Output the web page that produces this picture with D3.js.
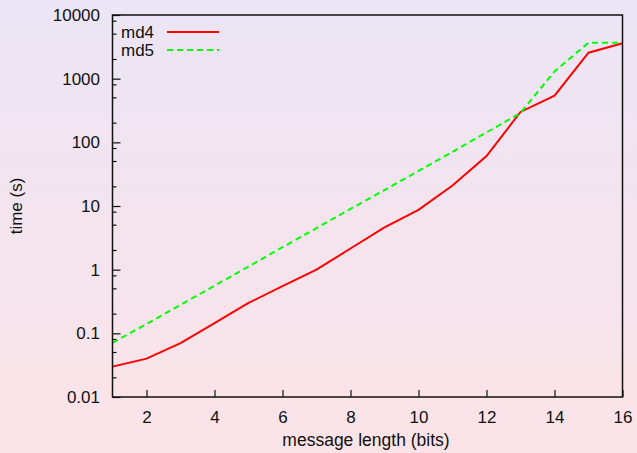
<!DOCTYPE html>
<html><head><meta charset="utf-8">
<script src="https://cdn.jsdelivr.net/npm/d3@7"></script>
<style>
html,body{margin:0;padding:0;}
svg{display:block;}
text{font-family:"Liberation Sans",Arial,Helvetica,sans-serif;}
</style></head>
<body>
<svg id="chart" width="637" height="453"></svg>
<script>
const bits = [1,2,3,4,5,6,7,8,9,10,11,12,13,14,15,16];
const md4 = [0.030,0.040,0.070,0.145,0.30,0.55,1.0,2.15,4.6,8.7,21,61,300,540,2560,3600];
const md5 = [0.071,0.14,0.28,0.56,1.12,2.25,4.5,9.0,17.8,35.5,71,143,290,1300,3670,3670];
const xTicks = [2,4,6,8,10,12,14,16];
const yTicks = [0.01,0.1,1,10,100,1000,10000];
const yTickLabels = ["0.01","0.1","1","10","100","1000","10000"];
const minorMultipliers = [2,5,8];
const seriesNames = ["md4","md5"];
const seriesColors = ["#ff0000","#00ff00"];
const xLabel = "message length (bits)";
const yLabel = "time (s)";

const W = 637, H = 453;
const L = 112.5, R = 622.5, T = 15, B = 397;
const svg = d3.select("#chart");

const defs = svg.append("defs");
const grad = defs.append("linearGradient").attr("id","bg").attr("x1",0).attr("y1",0).attr("x2",0).attr("y2",1);
grad.append("stop").attr("offset","0%").attr("stop-color","#ebe5f5");
grad.append("stop").attr("offset","100%").attr("stop-color","#fce3e7");
svg.append("rect").attr("width",W).attr("height",H).attr("fill","url(#bg)");

const x = d3.scaleLinear().domain([1,16]).range([L,R]);
const y = d3.scaleLog().domain([0.01,10000]).range([B,T]);

// minor ticks
const minorVals = [];
yTicks.slice(0,-1).forEach(d => minorMultipliers.forEach(m => minorVals.push(d*m)));
svg.append("g").selectAll("line").data(minorVals).join("line")
  .attr("x1",L).attr("x2",L+4).attr("y1",d=>y(d)).attr("y2",d=>y(d))
  .attr("stroke","#111").attr("stroke-width",1.2);

// y axis
const yAxis = svg.append("g").attr("transform",`translate(${L},0)`)
  .call(d3.axisLeft(y).tickValues(yTicks).tickFormat((d,i)=>yTickLabels[i]).tickSizeInner(-8).tickSizeOuter(0).tickPadding(12.5));
yAxis.select(".domain").remove();
yAxis.selectAll("line").attr("stroke","#111").attr("stroke-width",1.2);
yAxis.selectAll("text").attr("font-size",17).attr("fill","#111").attr("font-family","Liberation Sans, Arial, sans-serif");

// x axis
const xAxis = svg.append("g").attr("transform",`translate(0,${B})`)
  .call(d3.axisBottom(x).tickValues(xTicks).tickFormat(d3.format("d")).tickSizeInner(-7).tickSizeOuter(0).tickPadding(14));
xAxis.select(".domain").remove();
xAxis.selectAll("line").attr("stroke","#111").attr("stroke-width",1.2);
xAxis.selectAll("text").attr("font-size",17).attr("fill","#111").attr("font-family","Liberation Sans, Arial, sans-serif");

// lines
const line = d3.line().x((d,i)=>x(bits[i])).y(d=>y(d));
svg.append("path").datum(md4).attr("d",line).attr("fill","none")
  .attr("stroke",seriesColors[0]).attr("stroke-width",2);
svg.append("path").datum(md5).attr("d",line).attr("fill","none")
  .attr("stroke",seriesColors[1]).attr("stroke-width",2).attr("stroke-dasharray","6,4");

// border
svg.append("rect").attr("x",L).attr("y",T).attr("width",R-L).attr("height",B-T)
  .attr("fill","none").attr("stroke","#111").attr("stroke-width",1.5);

// legend
const leg = svg.append("g");
seriesNames.forEach((n,i)=>{
  const ly = 32 + i*18;
  leg.append("text").attr("x",121).attr("y",ly+6).attr("font-size",17).attr("fill","#111").text(n);
  leg.append("line").attr("x1",167).attr("x2",219).attr("y1",ly).attr("y2",ly)
    .attr("stroke",seriesColors[i]).attr("stroke-width",2)
    .attr("stroke-dasharray", i===1 ? "6,4" : null);
});

// axis labels
svg.append("text").attr("x",366).attr("y",446).attr("text-anchor","middle")
  .attr("font-size",17.5).attr("fill","#111").text(xLabel);
svg.append("text").attr("transform","translate(22,206) rotate(-90)").attr("text-anchor","middle")
  .attr("font-size",17).attr("fill","#111").text(yLabel);
</script>
</body></html>
